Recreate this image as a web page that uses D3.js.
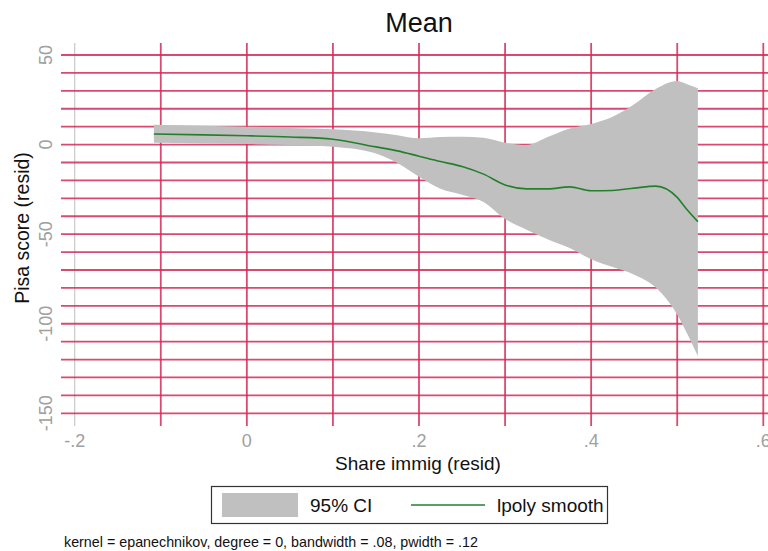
<!DOCTYPE html>
<html>
<head>
<meta charset="utf-8">
<script src="https://cdn.jsdelivr.net/npm/d3@7"></script>
<style>
  body { margin: 0; background: #fff; }
  svg { display: block; font-family: "Liberation Sans", Arial, sans-serif; }
</style>
</head>
<body>
<div id="chart"></div>
<script>
// Lpoly smooth of Pisa score residuals on immigrant share residuals
const shareImmig = [-0.108, -0.05, 0, 0.05, 0.1, 0.15, 0.175, 0.2, 0.225, 0.25, 0.275, 0.3,
                    0.325, 0.35, 0.375, 0.4, 0.425, 0.45, 0.475, 0.5, 0.51, 0.524];
const smooth = [5.9, 5.4, 4.9, 4.2, 3.0, -1.3, -3.5, -6.5, -9.5, -12.2, -16.5, -22.5,
                -24.7, -24.7, -23.6, -25.8, -25.6, -24.3, -23.2, -29.5, -35.5, -43];
const ciHigh = [11, 10.5, 10, 9.3, 8.5, 6.8, 5.2, 3.5, 4.2, 4.4, 3.8, 1,
                -0.3, 4.3, 9, 11.5, 15.5, 22.5, 31, 35.5, 34, 31.5];
const ciLow = [1, 0.6, 0.3, -0.3, -1.2, -5, -10.3, -18, -24.7, -28, -32, -41.5,
               -47.5, -53, -57.8, -64, -68.4, -72.6, -79.8, -95, -104, -118];

const xTicks = [-0.2, 0, 0.2, 0.4, 0.6];
const xTickLabels = ['-.2', '0', '.2', '.4', '.6'];
const xGrid = [-0.1, 0, 0.1, 0.2, 0.3, 0.4, 0.5, 0.6];
const yTicks = [50, 0, -50, -100, -150];
const yGrid = d3.range(50, -151, -10);

const W = 768, H = 551;
const gridColor = '#d42a58';

const svg = d3.select('#chart').append('svg')
    .attr('width', W).attr('height', H);

const x = d3.scaleLinear().domain([-0.2, 0.6]).range([74.7, 763.3]);
const y = d3.scaleLinear().domain([-150, 50]).range([413.3, 55]);

// grey line at -.2
svg.append('line')
    .attr('x1', x(-0.2)).attr('x2', x(-0.2))
    .attr('y1', 43).attr('y2', 426)
    .attr('stroke', '#c8c8c8').attr('stroke-width', 1.2);

// horizontal grid
svg.append('g').selectAll('line').data(yGrid).join('line')
    .attr('x1', 61).attr('x2', W + 5)
    .attr('y1', d => y(d)).attr('y2', d => y(d))
    .attr('stroke', gridColor).attr('stroke-width', 1.8).attr('opacity', 0.85);

// vertical grid
svg.append('g').selectAll('line').data(xGrid).join('line')
    .attr('x1', d => x(d)).attr('x2', d => x(d))
    .attr('y1', 43).attr('y2', 426)
    .attr('stroke', gridColor).attr('stroke-width', 1.8).attr('opacity', 0.85);

const pts = shareImmig.map((v, i) => ({ x: v, m: smooth[i], lo: ciLow[i], hi: ciHigh[i] }));

// CI band
svg.append('path')
    .datum(pts)
    .attr('fill', '#c0c0c0')
    .attr('d', d3.area()
        .x(d => x(d.x)).y0(d => y(d.lo)).y1(d => y(d.hi))
        .curve(d3.curveMonotoneX));

// smooth line
svg.append('path')
    .datum(pts)
    .attr('fill', 'none')
    .attr('stroke', '#23802a')
    .attr('stroke-width', 1.6)
    .attr('d', d3.line().x(d => x(d.x)).y(d => y(d.m)).curve(d3.curveMonotoneX));

// tick labels
svg.append('g').selectAll('text').data(yTicks).join('text')
    .attr('transform', d => `translate(52,${y(d)}) rotate(-90)`)
    .attr('text-anchor', 'middle')
    .attr('font-size', 18).attr('fill', '#a0a0a0')
    .text(d => d);

svg.append('g').selectAll('text').data(xTicks).join('text')
    .attr('x', d => x(d)).attr('y', 447)
    .attr('text-anchor', 'middle')
    .attr('font-size', 18).attr('fill', '#a0a0a0')
    .text((d, i) => xTickLabels[i]);

// titles
svg.append('text')
    .attr('x', 419).attr('y', 32)
    .attr('text-anchor', 'middle')
    .attr('font-size', 27).attr('fill', '#111')
    .text('Mean');

svg.append('text')
    .attr('x', 418).attr('y', 470)
    .attr('text-anchor', 'middle')
    .attr('font-size', 19).attr('fill', '#111')
    .text('Share immig (resid)');

svg.append('text')
    .attr('transform', `translate(29,${228}) rotate(-90)`)
    .attr('text-anchor', 'middle')
    .attr('font-size', 19.5).attr('fill', '#111')
    .text('Pisa score (resid)');

// legend
const lg = svg.append('g');
lg.append('rect')
    .attr('x', 211.5).attr('y', 486.5).attr('width', 396).attr('height', 37)
    .attr('fill', '#fff').attr('stroke', '#333').attr('stroke-width', 1.2);
lg.append('rect')
    .attr('x', 222).attr('y', 493).attr('width', 76).attr('height', 24)
    .attr('fill', '#c0c0c0');
lg.append('text')
    .attr('x', 310).attr('y', 512)
    .attr('font-size', 19).attr('fill', '#111')
    .text('95% CI');
lg.append('line')
    .attr('x1', 411).attr('x2', 485).attr('y1', 505).attr('y2', 505)
    .attr('stroke', '#23802a').attr('stroke-width', 1.6);
lg.append('text')
    .attr('x', 497).attr('y', 512)
    .attr('font-size', 19).attr('fill', '#111')
    .text('lpoly smooth');

// note
svg.append('text')
    .attr('x', 64).attr('y', 547)
    .attr('font-size', 14.3).attr('fill', '#111')
    .text('kernel = epanechnikov, degree = 0, bandwidth = .08, pwidth = .12');
</script>
</body>
</html>
